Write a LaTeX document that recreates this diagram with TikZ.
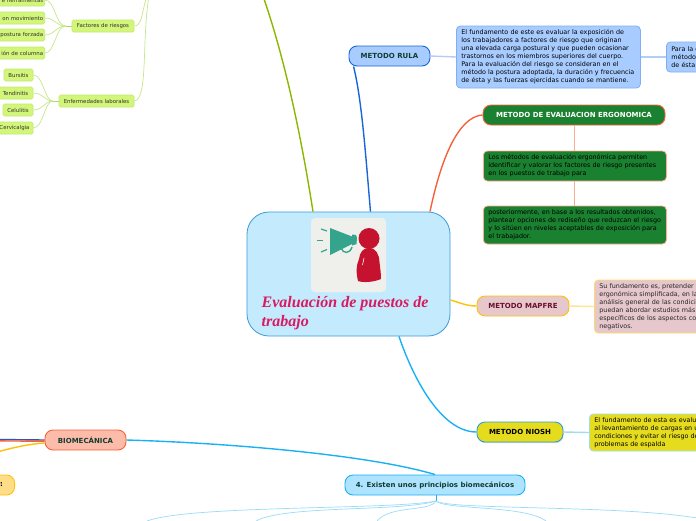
\documentclass[tikz,border=0pt]{standalone}
\usepackage{fontspec}
\setmainfont{DejaVu Sans}
\newfontfamily\titlefont{Liberation Serif}
\usetikzlibrary{arrows.meta,positioning,calc,shadows}
\definecolor{rootFill}{HTML}{C4EBFD}
\definecolor{rootLine}{HTML}{3A9AD9}
\definecolor{rootText}{HTML}{D81B60}
\definecolor{iconBack}{HTML}{EFF0EC}
\definecolor{iconGreen}{HTML}{34A58C}
\definecolor{iconRed}{HTML}{C4122F}
\definecolor{rulaFill}{HTML}{A8CCFF}
\definecolor{rulaLine}{HTML}{1A66D6}
\definecolor{rulaSoft}{HTML}{7FAEF2}
\definecolor{ergoFill}{HTML}{1A8130}
\definecolor{ergoLine}{HTML}{F4623A}
\definecolor{ergoSoft}{HTML}{FFAB91}
\definecolor{mapfreFill}{HTML}{E6C8CC}
\definecolor{mapfreLine}{HTML}{FFC107}
\definecolor{mapfreSoft}{HTML}{FFD966}
\definecolor{mapfreText}{HTML}{6B0F2B}
\definecolor{nioshFill}{HTML}{E6DC1E}
\definecolor{nioshLine}{HTML}{2A9FD6}
\definecolor{nioshSoft}{HTML}{9FDCEF}
\definecolor{bioFill}{HTML}{FDBBAA}
\definecolor{bioText}{HTML}{123C2E}
\definecolor{prinFill}{HTML}{AEE4FF}
\definecolor{prinLine}{HTML}{1AB0F5}
\definecolor{yellowFill}{HTML}{FFDD88}
\definecolor{limeFill}{HTML}{D2F57A}
\definecolor{limeLine}{HTML}{BFEA6C}
\definecolor{limeWire}{HTML}{C6E58C}
\definecolor{limeMain}{HTML}{8DB600}
\begin{document}
\begin{tikzpicture}[x=1pt,y=-1pt,
  topic/.style={draw,rounded corners=8pt,line width=0.9pt,inner sep=0pt,align=center,font=\fontsize{7}{8}\selectfont\bfseries},
  note/.style={draw,rounded corners=4pt,line width=0.8pt,inner sep=0pt,inner xsep=5pt,align=left,anchor=west,font=\fontsize{6.4}{8}\selectfont},
  leaf/.style={draw=limeLine,fill=limeFill,rounded corners=1.5pt,line width=0.7pt,inner sep=0pt,minimum height=12pt,align=center,font=\fontsize{5.4}{6}\selectfont,text=black!80},
  wire/.style={line width=1.4pt},
  thin wire/.style={line width=0.7pt}
]
\useasboundingbox (0,0) rectangle (696,520);
\clip (0,0) rectangle (696,520);

\node[draw=rootLine,fill=rootFill,rounded corners=22pt,line width=0.8pt,minimum width=203pt,minimum height=124pt,inner sep=0pt] (root) at (348.5,274) {};
\node[fill=iconBack,rounded corners=4pt,minimum width=75pt,minimum height=74pt,inner sep=0pt] (icon) at (348.5,255) {};
\node[anchor=north west,inner sep=0pt,align=left,text=rootText,font=\titlefont\fontsize{16}{19.5}\selectfont\bfseries\itshape] (title) at (261.5,296) {Evaluación de puestos de\\trabajo};

\fill[iconGreen] (330,228) -- (352,236.5) -- (352,234.5) -- (356,235) -- (357,238) -- (356.5,244) -- (352,245.5) -- (352,244) -- (330,255) -- cycle;
\draw[iconGreen,line width=1.4pt] (341,248) .. controls (343,254) and (350,254) .. (352,247);
\draw[iconGreen,line width=1.2pt] (321,229) -- (327,231);
\draw[iconGreen,line width=1.2pt] (317,240.5) -- (323,240.5);
\draw[iconGreen,line width=1.2pt] (321,252) -- (327,249.5);
\fill[iconRed] (369,238.5) circle (10.5);
\fill[iconRed] (369,248) .. controls (376,248) and (379,254) .. (379.5,262) .. controls (380,268) and (381,272) .. (381,279) .. controls (374,282) and (364,283) .. (358,281) .. controls (356,272) and (356,266) .. (359,259) .. controls (360,252) and (363,248) .. (369,248) -- cycle;
\draw[white,line width=0.6pt] (364,258) -- (362.5,265);

\node[topic,draw=rulaLine,fill=rulaFill,text=bioText,minimum width=81pt,minimum height=20pt] (rula) at (389.5,56) {METODO RULA};
\node[note,draw=rulaSoft,fill=rulaFill,minimum width=184pt,minimum height=62pt,text width=174pt] (rulaText) at (456,57)
  {El fundamento de este es evaluar la exposición de\\los trabajadores a factores de riesgo que originan\\una elevada carga postural y que pueden ocasionar\\trastornos en los miembros superiores del cuerpo.\\Para la evaluación del riesgo se consideran en el\\método la postura adoptada, la duración y frecuencia\\de ésta y las fuerzas ejercidas cuando se mantiene.};
\node[note,draw=rulaSoft,fill=rulaFill,minimum width=60pt,minimum height=30pt,text width=50pt] (rulaMore) at (666,57)
  {Para la c\\método\\de ésta};

\node[topic,draw=ergoLine,fill=ergoFill,text=white,minimum width=182pt,minimum height=20pt] (ergo) at (574,115) {METODO DE EVALUACION ERGONOMICA};
\node[note,draw=ergoSoft,fill=ergoFill,text=black,minimum width=183pt,minimum height=30pt,text width=173pt] (ergoOne) at (483,166)
  {Los métodos de evaluación ergonómica permiten\\identificar y valorar los factores de riesgo presentes\\en los puestos de trabajo para};
\node[note,draw=ergoSoft,fill=ergoFill,text=black,minimum width=183pt,minimum height=38pt,text width=173pt] (ergoTwo) at (483,225)
  {posteriormente, en base a los resultados obtenidos,\\plantear opciones de rediseño que reduzcan el riesgo\\y lo sitúen en niveles aceptables de exposición para\\el trabajador.};

\node[topic,draw=mapfreLine,fill=mapfreFill,text=mapfreText,minimum width=92pt,minimum height=20pt] (mapfre) at (523,306) {METODO MAPFRE};
\node[note,draw=mapfreSoft,fill=mapfreFill,text=black!85,minimum width=130pt,minimum height=53pt,text width=120pt] (mapfreText) at (594,306.5)
  {Su fundamento es, pretender\\ergonómica simplificada, en la\\análisis general de las condici\\puedan abordar estudios más\\específicos de los aspectos co\\negativos.};

\node[topic,draw=nioshLine,fill=nioshFill,text=black,minimum width=86pt,minimum height=20pt,drop shadow={shadow xshift=0.5pt,shadow yshift=-1.2pt,opacity=0.35}] (niosh) at (520,432) {METODO NIOSH};
\node[note,draw=nioshSoft,fill=nioshFill,text=black,minimum width=130pt,minimum height=37pt,text width=120pt] (nioshText) at (589,432.5)
  {El fundamento de esta es evalu\\al levantamiento de cargas en u\\condiciones y evitar el riesgo de\\problemas de espalda};

\node[topic,draw=ergoLine,fill=bioFill,text=bioText,minimum width=81pt,minimum height=20pt] (bio) at (85.5,440) {BIOMECÁNICA};
\node[topic,draw=prinLine,fill=prinFill,text=bioText,minimum width=180pt,minimum height=20pt] (prin) at (435,485) {4. Existen unos principios biomecánicos};
\node[topic,draw=mapfreLine,fill=yellowFill,text=black,anchor=east,minimum height=20pt,align=right,text width=30pt,inner xsep=11.5pt] (yellow) at (15,485) {r:};

\node[leaf,minimum width=62pt] (riesgos) at (103,26) {Factores de riesgos};
\node[leaf,minimum width=75pt] (laborales) at (96.5,101) {Enfermedades laborales};
\node[leaf,anchor=east,minimum width=60pt,align=right,text width=57pt] (tools) at (45,0) {e herramientas};
\node[leaf,anchor=east,minimum width=60pt,align=right,text width=57pt] (move) at (45,18) {on movimiento};
\node[leaf,anchor=east,minimum width=60pt,align=right,text width=57pt] (force) at (45,35) {postura forzada};
\node[leaf,anchor=east,minimum width=60pt,align=right,text width=57pt] (spine) at (45,53) {ión de columna};
\node[leaf,minimum width=29pt] (bursitis) at (18.5,75) {Bursitis};
\node[leaf,minimum width=35pt] (tendon) at (15.5,93) {Tendinitis};
\node[leaf,minimum width=30pt] (celulitis) at (18,110) {Celulitis};
\node[leaf,minimum width=37pt] (neck) at (14.5,128) {Cervicalgia};

\coordinate (limeTop) at (146,-1);
\coordinate (limeTopB) at (148.5,-1);
\coordinate (mainTop) at (264,-1);
\coordinate (bioOutA) at (-1,439.5);
\coordinate (bioOutB) at (-1,451.5);
\coordinate (prinFork) at (436,501);

\draw[wire,draw=limeMain] ([xshift=-35.5pt]root.north) .. controls (301,135) and (285,60) .. (mainTop);
\draw[wire,draw=rulaLine] (rula.south west) ++(5,0) .. controls (362,100) and (366,160) .. ([xshift=22pt]root.north);
\draw[wire,draw=ergoLine] (ergo.west) .. controls (465,116) and (445,140) .. ([xshift=81.5pt]root.north);
\draw[wire,draw=mapfreLine] ([yshift=-26pt]root.east) .. controls (458,302) and (466,306) .. (mapfre.west);
\draw[wire,draw=prinLine] ([xshift=50.5pt]root.south) .. controls (412,375) and (440,432) .. (niosh.west);
\draw[wire,draw=rulaSoft!60] (rula.east) -- (rulaText.west);
\draw[wire,draw=rulaSoft!60] (rulaText.east) -- (rulaMore.west);
\draw[thin wire,draw=ergoSoft] (ergo.south) -- (ergoOne.north -| ergo.south);
\draw[thin wire,draw=ergoSoft] (ergoOne.south -| ergo.south) -- (ergoTwo.north -| ergo.south);
\draw[wire,draw=mapfreSoft!70] (mapfre.east) -- (mapfreText.west);
\draw[wire,draw=nioshSoft] (niosh.east) -- (nioshText.west);
\draw[wire,draw=rulaLine!80!violet] (bio.west) -- (bioOutA);
\draw[wire,draw=ergoLine] ([yshift=-1.2pt]bio.west) -- ([yshift=-1.4pt]bioOutA);
\draw[wire,draw=mapfreLine] ([yshift=-3pt]bio.west) .. controls (30,444) and (15,447) .. (bioOutB);
\draw[wire,draw=prinLine] (bio.east) .. controls (230,443) and (370,455) .. (prin.north);
\draw[thin wire,draw=prinLine] (prin.south -| prinFork) -- (prinFork);
\draw[thin wire,draw=prinLine!45] (prinFork) .. controls (390,510) and (190,505) .. (147,521);
\draw[thin wire,draw=prinLine!45] (prinFork) .. controls (400,512) and (285,505) .. (256,521);
\draw[thin wire,draw=prinLine!45] (prinFork) .. controls (430,512) and (390,505) .. (377,521);
\draw[thin wire,draw=prinLine!45] (prinFork) .. controls (445,510) and (525,505) .. (546,521);
\draw[thin wire,draw=prinLine!45] (prinFork) .. controls (450,510) and (620,505) .. (697,518);
\draw[thin wire,draw=limeWire] (riesgos.east) .. controls (142,26) and (142,12) .. (limeTop);
\draw[thin wire,draw=limeWire] (laborales.east) .. controls (148,100) and (142,40) .. (limeTopB);
\draw[thin wire,draw=limeMain!60] (riesgos.west) -- ++(-6,0) coordinate (riesgosIn);
\draw[thin wire,draw=limeMain!60] (laborales.west) -- ++(-6,0) coordinate (laboralesIn);
\foreach \kid in {tools,move,force,spine}
  \draw[thin wire,draw=limeWire] (\kid.east) .. controls ($(\kid.east)+(10,0)$) and ($(riesgosIn)+(-10,0)$) .. (riesgosIn);
\foreach \kid in {bursitis,tendon,celulitis,neck}
  \draw[thin wire,draw=limeWire] (\kid.east) .. controls ($(\kid.east)+(10,0)$) and ($(laboralesIn)+(-8,0)$) .. (laboralesIn);
\end{tikzpicture}
\end{document}
